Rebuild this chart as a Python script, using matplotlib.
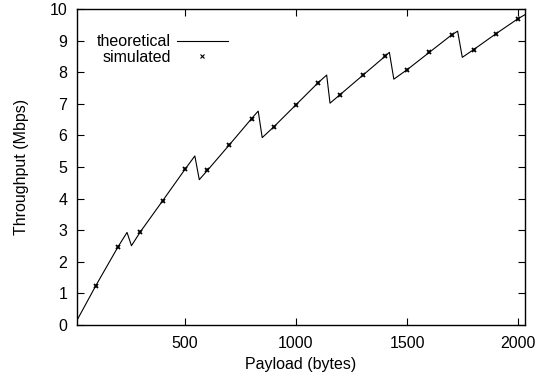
import matplotlib
matplotlib.use('Agg')
import matplotlib.pyplot as plt

plt.rcParams['font.family'] = ['Liberation Sans', 'DejaVu Sans']

# theoretical curve (vertices)
payload_theo = [15, 100, 200, 240, 260, 300, 400, 500, 545, 565, 600, 700, 800,
                830, 848, 900, 1000, 1100, 1138, 1153, 1200, 1300, 1400, 1420,
                1440, 1500, 1600, 1700, 1727, 1748, 1800, 1900, 2000, 2030]
thr_theo = [0.15, 1.25, 2.48, 2.93, 2.51, 2.95, 3.93, 4.92, 5.35, 4.60, 4.88,
            5.70, 6.53, 6.77, 5.93, 6.27, 6.97, 7.67, 7.91, 7.02, 7.30, 7.90,
            8.50, 8.63, 7.78, 8.08, 8.63, 9.18, 9.30, 8.47, 8.72, 9.22, 9.70, 9.82]

# simulated points
payload_sim = [100, 200, 300, 400, 500, 600, 700, 800, 900, 1000,
               1100, 1200, 1300, 1400, 1500, 1600, 1700, 1800, 1900, 2000]
thr_sim = [1.24, 2.48, 2.94, 3.92, 4.93, 4.89, 5.71, 6.52, 6.26, 6.96,
           7.67, 7.29, 7.90, 8.51, 8.08, 8.63, 9.18, 8.71, 9.21, 9.68]

fs = 11.5

fig = plt.figure(figsize=(5.4, 3.85), dpi=100)
ax = fig.add_axes([0.1426, 0.1558, 0.8296, 0.8208])

ax.plot(payload_theo, thr_theo, color='black', lw=0.8, label='theoretical')
ax.plot(payload_sim, thr_sim, ls='none', marker='x', color='black',
        ms=3.5, mew=1.3, label='simulated')

ax.set_xlim(15, 2030)
ax.set_ylim(0, 10)
ax.set_xticks([500, 1000, 1500, 2000])
ax.set_yticks(range(0, 11))
ax.tick_params(direction='in', top=True, right=True, length=5, width=0.8,
               labelsize=fs)
ax.tick_params(axis='y', pad=7)
ax.tick_params(axis='x', pad=8)
for s in ax.spines.values():
    s.set_linewidth(1)

ax.set_xlabel('Payload (bytes)', fontsize=fs, labelpad=4)
ax.set_ylabel('Throughput (Mbps)', fontsize=fs, labelpad=15)

leg = ax.legend(loc='upper left', bbox_to_anchor=(0.045, 0.92), frameon=False,
                markerfirst=False, fontsize=fs, handlelength=3.2,
                handletextpad=0.35, labelspacing=0.05, borderpad=0,
                borderaxespad=0, markerscale=0.75)
leg.legend_handles[1].set_markeredgewidth(0.8)

fig.savefig('out.png', dpi=100)
